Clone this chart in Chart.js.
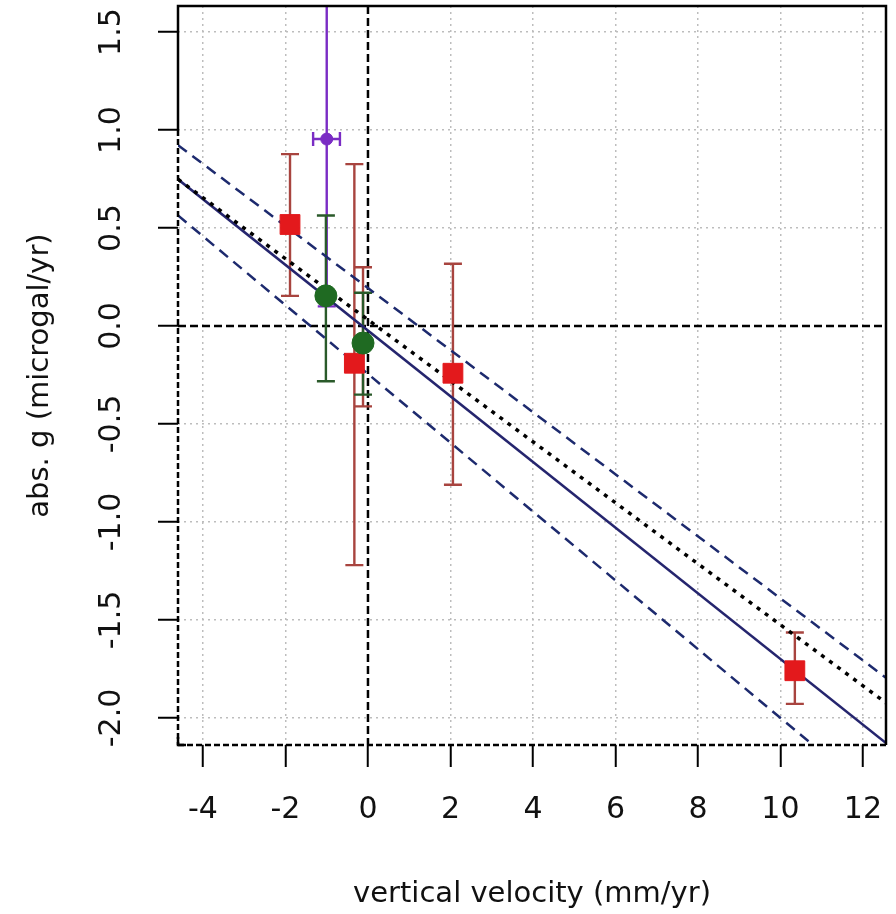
<!DOCTYPE html>
<html>
<head>
<meta charset="utf-8">
<script src="https://cdn.jsdelivr.net/npm/chart.js@4.4.1/dist/chart.umd.min.js"></script>
<style>
  html, body { margin: 0; padding: 0; background: #fff; }
  canvas { display: block; }
</style>
</head>
<body>
<canvas id="chart" width="896" height="914"></canvas>
<script>
// axis ranges and ticks
const xRange = [-4.606, 12.56];
const yRange = [-2.138, 1.633];
const xTicks = [-4, -2, 0, 2, 4, 6, 8, 10, 12];
const yTicks = [-2.0, -1.5, -1.0, -0.5, 0.0, 0.5, 1.0, 1.5];

// red stations (last one sits under the green marker)
const redX = [-1.89, -0.33, 2.06, 10.35, -0.12];
const redY = [0.518, -0.19, -0.241, -1.759, -0.087];
const redLo = [0.154, -1.22, -0.81, -1.928, -0.41];
const redHi = [0.877, 0.826, 0.318, -1.564, 0.30];

// green stations
const greenX = [-1.02, -0.12];
const greenY = [0.154, -0.087];
const greenLo = [-0.282, -0.35];
const greenHi = [0.564, 0.17];

// purple station
const purpleX = [-1.0];
const purpleY = [0.954];
const purpleLo = [0.10];
const purpleHi = [1.80];
const purpleXLo = [-1.33];
const purpleXHi = [-0.68];

// fitted lines (two end points each)
const lineX = [-4.606, 12.56];
const fitY = [0.749, -2.128];
const upperY = [0.923, -1.795];
const lowerY = [0.564, -2.449];
const dotY = [0.749, -1.923];

const xLabel = "vertical velocity (mm/yr)";
const yLabel = "abs. g (microgal/yr)";

const pts = (xs, ys) => xs.map((x, i) => ({x: x, y: ys[i]}));

const errorBars = {
  id: 'errorBars',
  beforeDatasetsDraw(chart) {
    const {ctx, chartArea, scales: {x, y}} = chart;
    ctx.save();
    ctx.beginPath();
    ctx.rect(chartArea.left, chartArea.top, chartArea.right - chartArea.left, chartArea.bottom - chartArea.top);
    ctx.clip();

    // zero lines
    ctx.strokeStyle = '#000';
    ctx.lineWidth = 2.5;
    ctx.setLineDash([8, 4]);
    ctx.beginPath();
    ctx.moveTo(x.getPixelForValue(0), chartArea.top);
    ctx.lineTo(x.getPixelForValue(0), chartArea.bottom);
    ctx.moveTo(chartArea.left, y.getPixelForValue(0));
    ctx.lineTo(chartArea.right, y.getPixelForValue(0));
    ctx.stroke();
    ctx.setLineDash([]);

    const groups = [
      {xs: purpleX, lo: purpleLo, hi: purpleHi, color: '#7a2cc4'},
      {xs: redX, lo: redLo, hi: redHi, color: '#a8443f'},
      {xs: greenX, lo: greenLo, hi: greenHi, color: '#2a5a2a'}
    ];
    const cap = 9;
    ctx.lineWidth = 2.4;
    groups.forEach(g => {
      ctx.strokeStyle = g.color;
      g.xs.forEach((v, i) => {
        const px = x.getPixelForValue(v);
        const y1 = y.getPixelForValue(g.lo[i]);
        const y2 = y.getPixelForValue(g.hi[i]);
        ctx.beginPath();
        ctx.moveTo(px, y1); ctx.lineTo(px, y2);
        ctx.moveTo(px - cap, y1); ctx.lineTo(px + cap, y1);
        ctx.moveTo(px - cap, y2); ctx.lineTo(px + cap, y2);
        ctx.stroke();
      });
    });
    // horizontal bar on purple
    ctx.strokeStyle = '#7a2cc4';
    purpleX.forEach((v, i) => {
      const py = y.getPixelForValue(purpleY[i]);
      const x1 = x.getPixelForValue(purpleXLo[i]);
      const x2 = x.getPixelForValue(purpleXHi[i]);
      ctx.beginPath();
      ctx.moveTo(x1, py); ctx.lineTo(x2, py);
      ctx.moveTo(x1, py - 7); ctx.lineTo(x1, py + 7);
      ctx.moveTo(x2, py - 7); ctx.lineTo(x2, py + 7);
      ctx.stroke();
    });
    ctx.restore();
  }
};

const frameAndText = {
  id: 'frameAndText',
  afterDraw(chart) {
    const {ctx, chartArea: a, scales: {x, y}} = chart;
    ctx.save();
    ctx.strokeStyle = '#000';
    ctx.lineWidth = 2.5;
    ctx.beginPath();
    ctx.moveTo(a.left, y.getPixelForValue(1.0));
    ctx.lineTo(a.left, a.top);
    ctx.lineTo(a.right, a.top);
    ctx.lineTo(a.right, a.bottom);
    ctx.moveTo(a.left + 8, a.bottom);
    ctx.lineTo(a.left, a.bottom);
    ctx.lineTo(a.left, a.bottom - 8);
    ctx.stroke();
    ctx.setLineDash([6, 3]);
    ctx.beginPath();
    ctx.moveTo(a.left, y.getPixelForValue(1.0));
    ctx.lineTo(a.left, a.bottom);
    ctx.moveTo(a.left, a.bottom);
    ctx.lineTo(a.right, a.bottom);
    ctx.stroke();
    ctx.setLineDash([]);

    ctx.fillStyle = '#111';
    ctx.font = '30px "DejaVu Sans"';
    ctx.textAlign = 'center';
    ctx.textBaseline = 'middle';
    xTicks.forEach(v => {
      ctx.fillText(String(v), x.getPixelForValue(v), 810);
    });
    yTicks.forEach(v => {
      ctx.save();
      ctx.translate(112, y.getPixelForValue(v));
      ctx.rotate(-Math.PI / 2);
      ctx.fillText(v.toFixed(1), 0, 0);
      ctx.restore();
    });
    ctx.font = '29px "DejaVu Sans"';
    ctx.fillText(xLabel, (a.left + a.right) / 2, 894);
    ctx.save();
    ctx.translate(40, (a.top + a.bottom) / 2);
    ctx.rotate(-Math.PI / 2);
    ctx.fillText(yLabel, 0, 0);
    ctx.restore();
    ctx.restore();
  }
};

const ctx = document.getElementById("chart").getContext("2d");
const data = {
  datasets: [
    {
      label: 'purple',
      data: pts(purpleX, purpleY),
      backgroundColor: '#7a2cc4',
      borderColor: '#7a2cc4',
      pointStyle: 'circle',
      pointRadius: 6
    },
    {
      label: 'green',
      data: pts(greenX, greenY),
      backgroundColor: '#1f6a22',
      borderColor: '#1f6a22',
      pointStyle: 'circle',
      pointRadius: 11
    },
    {
      label: 'red',
      data: pts(redX, redY),
      backgroundColor: '#e3191c',
      borderColor: '#e3191c',
      pointStyle: 'rect',
      pointRadius: [14, 14, 14, 14, 0]
    },
    {
      label: 'dotted',
      data: pts(lineX, dotY),
      showLine: true,
      pointRadius: 0,
      borderColor: '#000',
      borderWidth: 3.5,
      borderDash: [4, 6]
    },
    {
      label: 'upper',
      data: pts(lineX, upperY),
      showLine: true,
      pointRadius: 0,
      borderColor: '#1d2a6e',
      borderWidth: 2.5,
      borderDash: [11, 7]
    },
    {
      label: 'lower',
      data: pts(lineX, lowerY),
      showLine: true,
      pointRadius: 0,
      borderColor: '#1d2a6e',
      borderWidth: 2.5,
      borderDash: [11, 7]
    },
    {
      label: 'fit',
      data: pts(lineX, fitY),
      showLine: true,
      pointRadius: 0,
      borderColor: '#25256e',
      borderWidth: 2.6
    }
  ]
};

const config = {
  type: 'scatter',
  data: data,
  options: {
    responsive: false,
    animation: false,
    layout: { autoPadding: false, padding: { top: 6, right: 10, left: 0, bottom: 0 } },
    plugins: { legend: { display: false }, tooltip: { enabled: false } },
    scales: {
      x: {
        type: 'linear',
        min: xRange[0],
        max: xRange[1],
        afterBuildTicks: s => { s.ticks = xTicks.map(v => ({value: v})); },
        afterFit: s => { s.height = 169; },
        ticks: { display: false },
        grid: { color: '#bdbdbd', lineWidth: 1.5, tickLength: 22, tickColor: '#000', tickWidth: 2 },
        border: { display: false, dash: [2, 4] }
      },
      y: {
        type: 'linear',
        min: yRange[0],
        max: yRange[1],
        afterBuildTicks: s => { s.ticks = yTicks.map(v => ({value: v})); },
        afterFit: s => { s.width = 178; },
        ticks: { display: false },
        grid: { color: '#bdbdbd', lineWidth: 1.5, tickLength: 20, tickColor: '#000', tickWidth: 2 },
        border: { display: false, dash: [2, 4] }
      }
    }
  },
  plugins: [errorBars, frameAndText]
};

const chart = new Chart(ctx, config);
</script>
</body>
</html>
